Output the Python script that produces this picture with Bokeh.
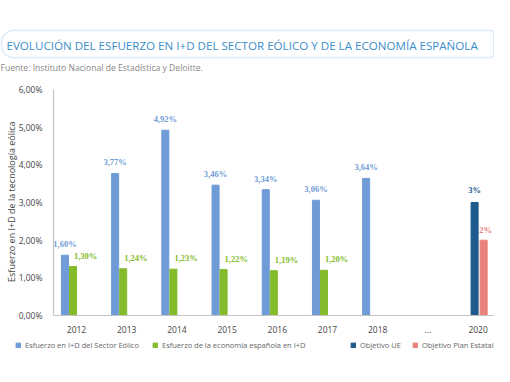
from bokeh.plotting import figure
from bokeh.models import (Range1d, FixedTicker, ColumnDataSource, Label, LabelSet,
                          BoxAnnotation, Legend, LegendItem)
from bokeh.embed import file_html
from bokeh.resources import INLINE

# ---------------- data ----------------
categories = ["2012", "2013", "2014", "2015", "2016", "2017", "2018", "...", "2020"]
sector_years = ["2012", "2013", "2014", "2015", "2016", "2017", "2018"]
sector_values = [1.60, 3.77, 4.92, 3.46, 3.34, 3.06, 3.64]
economy_years = ["2012", "2013", "2014", "2015", "2016", "2017"]
economy_values = [1.30, 1.24, 1.23, 1.22, 1.19, 1.20]
ue_years = ["2020"]
ue_values = [3]
plan_years = ["2020"]
plan_values = [2]
y_ticks = [0, 1, 2, 3, 4, 5, 6]
y_tick_labels = ["0,00%", "1,00%", "2,00%", "3,00%", "4,00%", "5,00%", "6,00%"]

series_names = ["Esfuerzo en I+D del Sector Eólico",
                "Esfuerzo de la economía española en I+D",
                "Objetivo UE", "Objetivo Plan Estatal"]

BLUE = "#6f9bd6"
GREEN = "#84bb2b"
DARK = "#1d5a8e"
RED = "#e9827c"
FONT = "Open Sans"

# ---------------- layout (pixel geometry of the canvas) ----------------
W, H = 494, 366
PX_PER_CAT = 50.2       # px between category centres
PX_PER_PCT = 37.667     # px per 1 %
X0_PX, Y0_PX = 76, 315  # px of first category centre / zero line


def dx(px):
    return (px - X0_PX) / PX_PER_CAT


def dy(py):
    return (Y0_PX - py) / PX_PER_PCT


x_range = Range1d(dx(0), dx(W))
y_range = Range1d(dy(H), dy(0))

BAR_W = 0.14
OFF = {"sector": -0.23, "economy": -0.07, "ue": -0.07, "plan": 0.11}


def pct2(v):
    return ("%.2f%%" % v).replace(".", ",")


def src(years, vals, key, fmt):
    return ColumnDataSource(dict(
        x=[categories.index(y) + OFF[key] for y in years],
        top=vals,
        label=[fmt(v) for v in vals],
    ))


s_sector = src(sector_years, sector_values, "sector", pct2)
s_econ = src(economy_years, economy_values, "economy", pct2)
s_ue = src(ue_years, ue_values, "ue", lambda v: "%g%%" % v)
s_plan = src(plan_years, plan_values, "plan", lambda v: "%g%%" % v)

p = figure(width=W, height=H, output_backend="svg", toolbar_location=None,
           x_range=x_range, y_range=y_range,
           min_border_left=0, min_border_right=0, min_border_top=0,
           min_border_bottom=0)
p.outline_line_color = None
p.xgrid.visible = False
p.ygrid.visible = False
p.background_fill_color = "white"

r1 = p.vbar(x="x", top="top", bottom=0, width=BAR_W, source=s_sector, color=BLUE)
r2 = p.vbar(x="x", top="top", bottom=0, width=BAR_W, source=s_econ, color=GREEN)
r3 = p.vbar(x="x", top="top", bottom=0, width=BAR_W, source=s_ue, color=DARK)
r4 = p.vbar(x="x", top="top", bottom=0, width=BAR_W, source=s_plan, color=RED)

lab_kw = dict(text_font=FONT, text_font_size="8.5px", text_font_style="bold",
              text_baseline="middle")
p.add_layout(LabelSet(x="x", y="top", text="label", source=s_sector, text_align="center",
                      y_offset=11, text_color=BLUE, **lab_kw))
p.add_layout(LabelSet(x="x", y="top", text="label", source=s_econ, text_align="left",
                      x_offset=1, y_offset=11, text_color=GREEN, **lab_kw))
p.add_layout(LabelSet(x="x", y="top", text="label", source=s_ue, text_align="center",
                      y_offset=12, text_color=DARK, **lab_kw))
p.add_layout(LabelSet(x="x", y="top", text="label", source=s_plan, text_align="center",
                      x_offset=2, y_offset=10, text_color=RED, **lab_kw))

# axes placed inside the frame
y_axis_x = dx(53)
x_end = dx(W)
p.yaxis.fixed_location = y_axis_x
p.yaxis.bounds = (y_ticks[0], y_ticks[-1])
p.xaxis.fixed_location = 0
p.xaxis.bounds = (y_axis_x, x_end)
p.yaxis.ticker = FixedTicker(ticks=y_ticks)
p.yaxis.major_label_overrides = {t: l for t, l in zip(y_ticks, y_tick_labels)}
p.xaxis.ticker = FixedTicker(ticks=list(range(len(categories))))
p.xaxis.major_label_overrides = {i: c for i, c in enumerate(categories)}
for ax in (p.xaxis, p.yaxis):
    ax.axis_line_color = "#c4c4c4"
    ax.axis_line_width = 1.2
    ax.major_tick_line_color = None
    ax.minor_tick_line_color = None
    ax.major_label_text_font = FONT
    ax.major_label_text_font_size = "8.5px"
    ax.major_label_text_color = "#444444"
p.yaxis.major_label_standoff = 5
p.xaxis.major_label_standoff = 4

# y axis title
p.add_layout(Label(x=dx(11), y=dy(200), text="Esfuerzo en I+D  de la tecnología eólica",
                   angle=1.5708, text_align="center", text_baseline="middle",
                   text_font=FONT, text_font_size="9px", text_color="#444444"))

# title box and texts
p.add_layout(BoxAnnotation(left=dx(1), right=dx(493), top=dy(30), bottom=dy(57),
                           fill_alpha=0, line_color="#93b8df", line_width=1.5,
                           border_radius=(12, 3, 3, 12)))
p.add_layout(Label(x=dx(6), y=dy(44.5), text="EVOLUCIÓN DEL ESFUERZO EN I+D DEL SECTOR EÓLICO Y DE LA ECONOMÍA ESPAÑOLA",
                   text_align="left", text_baseline="middle", text_font=FONT,
                   text_font_size="11.6px", text_color="#3c8ecb"))
p.add_layout(Label(x=dx(0), y=dy(67.5), text="Fuente: Instituto Nacional de Estadística y Deloitte.",
                   text_align="left", text_baseline="middle", text_font=FONT,
                   text_font_size="8.6px", text_color="#888888"))

# legends (location = bottom-left, px from canvas bottom-left)
leg_kw = dict(orientation="horizontal", padding=0, margin=0,
              glyph_width=6, glyph_height=6, label_standoff=4, label_height=10,
              label_text_font=FONT, label_text_font_size="7.5px",
              label_text_color="#666666", background_fill_alpha=0,
              border_line_color=None)
leg_bottom = H - 350
leg1 = Legend(items=[LegendItem(label=series_names[0], renderers=[r1]),
                     LegendItem(label=series_names[1], renderers=[r2])],
              location=(15, leg_bottom), spacing=13, **leg_kw)
leg2 = Legend(items=[LegendItem(label=series_names[2], renderers=[r3]),
                     LegendItem(label=series_names[3], renderers=[r4])],
              location=(350, leg_bottom), spacing=11, **leg_kw)
p.add_layout(leg1, "center")
p.add_layout(leg2, "center")

open("out.html", "w").write(file_html(p, INLINE))
